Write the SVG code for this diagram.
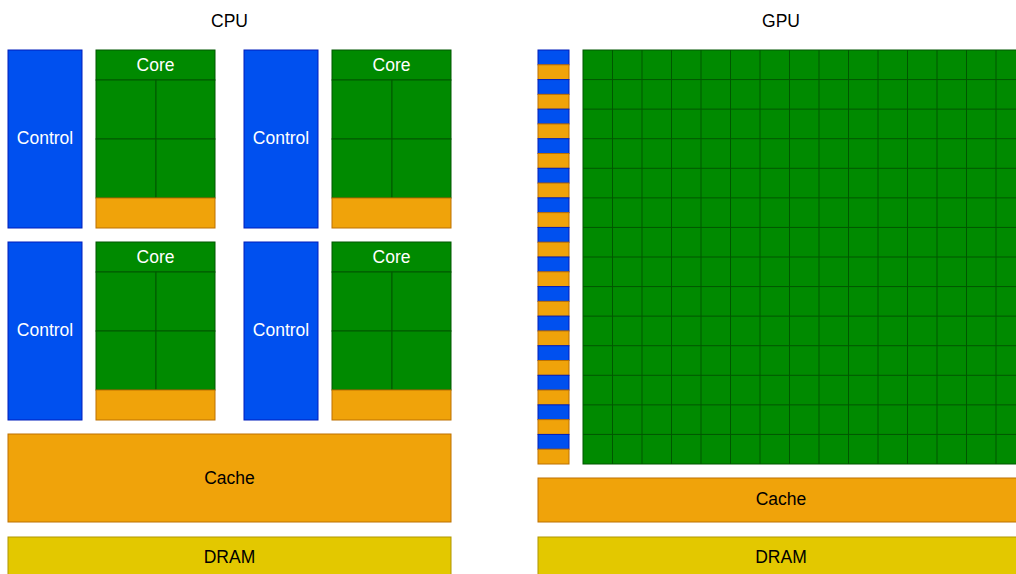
<svg xmlns="http://www.w3.org/2000/svg" width="1016" height="574" viewBox="0 0 1016 574">
  <style>
    text { font-family: "Liberation Sans", Arial, sans-serif; font-size: 17.5px; text-anchor: middle; }
    .lbl { fill: #000000; }
    .wht { fill: #ffffff; }
    .ctl { fill: #0050ef; stroke: #001dbc; stroke-width: 1; }
    .alu { fill: #008a00; stroke: #005700; stroke-width: 1; }
    .mem { fill: #f0a30a; stroke: #bd7000; stroke-width: 1; }
    .ram { fill: #e3c800; stroke: #b09500; stroke-width: 1; }
    .gl  { fill: none; stroke: #005700; stroke-width: 1; }
  </style>
  <defs>
    <!-- one CPU core: header, 2x2 ALUs, local cache -->
    <g id="core">
      <rect class="alu" x="0" y="0" width="119" height="30"/>
      <rect class="alu" x="0" y="30" width="60" height="59"/>
      <rect class="alu" x="60" y="30" width="59" height="59"/>
      <rect class="alu" x="0" y="89" width="60" height="59"/>
      <rect class="alu" x="60" y="89" width="59" height="59"/>
      <rect class="mem" x="0" y="148" width="119" height="30"/>
      <text class="wht" x="59.5" y="21">Core</text>
    </g>
    <g id="control">
      <rect class="ctl" x="0" y="0" width="74" height="178"/>
      <text class="wht" x="37" y="94">Control</text>
    </g>
  </defs>

  <!-- CPU side -->
  <g id="cpu-title"><text class="lbl" x="229.5" y="27">CPU</text></g>
  <g id="cpu-control-1"><use href="#control" x="8" y="50"/></g>
  <g id="cpu-core-1"><use href="#core" x="96" y="50"/></g>
  <g id="cpu-control-2"><use href="#control" x="244" y="50"/></g>
  <g id="cpu-core-2"><use href="#core" x="332" y="50"/></g>
  <g id="cpu-control-3"><use href="#control" x="8" y="242"/></g>
  <g id="cpu-core-3"><use href="#core" x="96" y="242"/></g>
  <g id="cpu-control-4"><use href="#control" x="244" y="242"/></g>
  <g id="cpu-core-4"><use href="#core" x="332" y="242"/></g>
  <g id="cpu-cache">
    <rect class="mem" x="8" y="434" width="443" height="88"/>
    <text class="lbl" x="229.5" y="484">Cache</text>
  </g>
  <g id="cpu-dram">
    <rect class="ram" x="8" y="537" width="443" height="42"/>
    <text class="lbl" x="229.5" y="563">DRAM</text>
  </g>

  <!-- GPU side -->
  <g id="gpu-title"><text class="lbl" x="781" y="27">GPU</text></g>
  <g id="gpu-control-cache-strip">
    <rect class="ctl" x="538" y="50" width="31" height="14.79"/>
    <rect class="mem" x="538" y="64.79" width="31" height="14.79"/>
    <rect class="ctl" x="538" y="79.57" width="31" height="14.79"/>
    <rect class="mem" x="538" y="94.36" width="31" height="14.79"/>
    <rect class="ctl" x="538" y="109.14" width="31" height="14.79"/>
    <rect class="mem" x="538" y="123.93" width="31" height="14.79"/>
    <rect class="ctl" x="538" y="138.71" width="31" height="14.79"/>
    <rect class="mem" x="538" y="153.5" width="31" height="14.79"/>
    <rect class="ctl" x="538" y="168.29" width="31" height="14.79"/>
    <rect class="mem" x="538" y="183.07" width="31" height="14.79"/>
    <rect class="ctl" x="538" y="197.86" width="31" height="14.79"/>
    <rect class="mem" x="538" y="212.64" width="31" height="14.79"/>
    <rect class="ctl" x="538" y="227.43" width="31" height="14.79"/>
    <rect class="mem" x="538" y="242.21" width="31" height="14.79"/>
    <rect class="ctl" x="538" y="257" width="31" height="14.79"/>
    <rect class="mem" x="538" y="271.79" width="31" height="14.79"/>
    <rect class="ctl" x="538" y="286.57" width="31" height="14.79"/>
    <rect class="mem" x="538" y="301.36" width="31" height="14.79"/>
    <rect class="ctl" x="538" y="316.14" width="31" height="14.79"/>
    <rect class="mem" x="538" y="330.93" width="31" height="14.79"/>
    <rect class="ctl" x="538" y="345.71" width="31" height="14.79"/>
    <rect class="mem" x="538" y="360.5" width="31" height="14.79"/>
    <rect class="ctl" x="538" y="375.29" width="31" height="14.79"/>
    <rect class="mem" x="538" y="390.07" width="31" height="14.79"/>
    <rect class="ctl" x="538" y="404.86" width="31" height="14.79"/>
    <rect class="mem" x="538" y="419.64" width="31" height="14.79"/>
    <rect class="ctl" x="538" y="434.43" width="31" height="14.79"/>
    <rect class="mem" x="538" y="449.21" width="31" height="14.79"/>
  </g>
  <g id="gpu-cores">
    <rect class="alu" x="583" y="50" width="442.5" height="414"/>
    <path class="gl" d="M612.5 50V464M642 50V464M671.5 50V464M701 50V464M730.5 50V464M760 50V464M789.5 50V464M819 50V464M848.5 50V464M878 50V464M907.5 50V464M937 50V464M966.5 50V464M996 50V464
      M583 79.57H1025.5M583 109.14H1025.5M583 138.71H1025.5M583 168.29H1025.5M583 197.86H1025.5M583 227.43H1025.5M583 257H1025.5M583 286.57H1025.5M583 316.14H1025.5M583 345.71H1025.5M583 375.29H1025.5M583 404.86H1025.5M583 434.43H1025.5"/>
  </g>
  <g id="gpu-cache">
    <rect class="mem" x="538" y="478" width="486" height="44"/>
    <text class="lbl" x="781" y="505">Cache</text>
  </g>
  <g id="gpu-dram">
    <rect class="ram" x="538" y="537" width="486" height="42"/>
    <text class="lbl" x="781" y="563">DRAM</text>
  </g>

  <!-- no connectors in this figure -->
  <g id="connectors"/>
</svg>
